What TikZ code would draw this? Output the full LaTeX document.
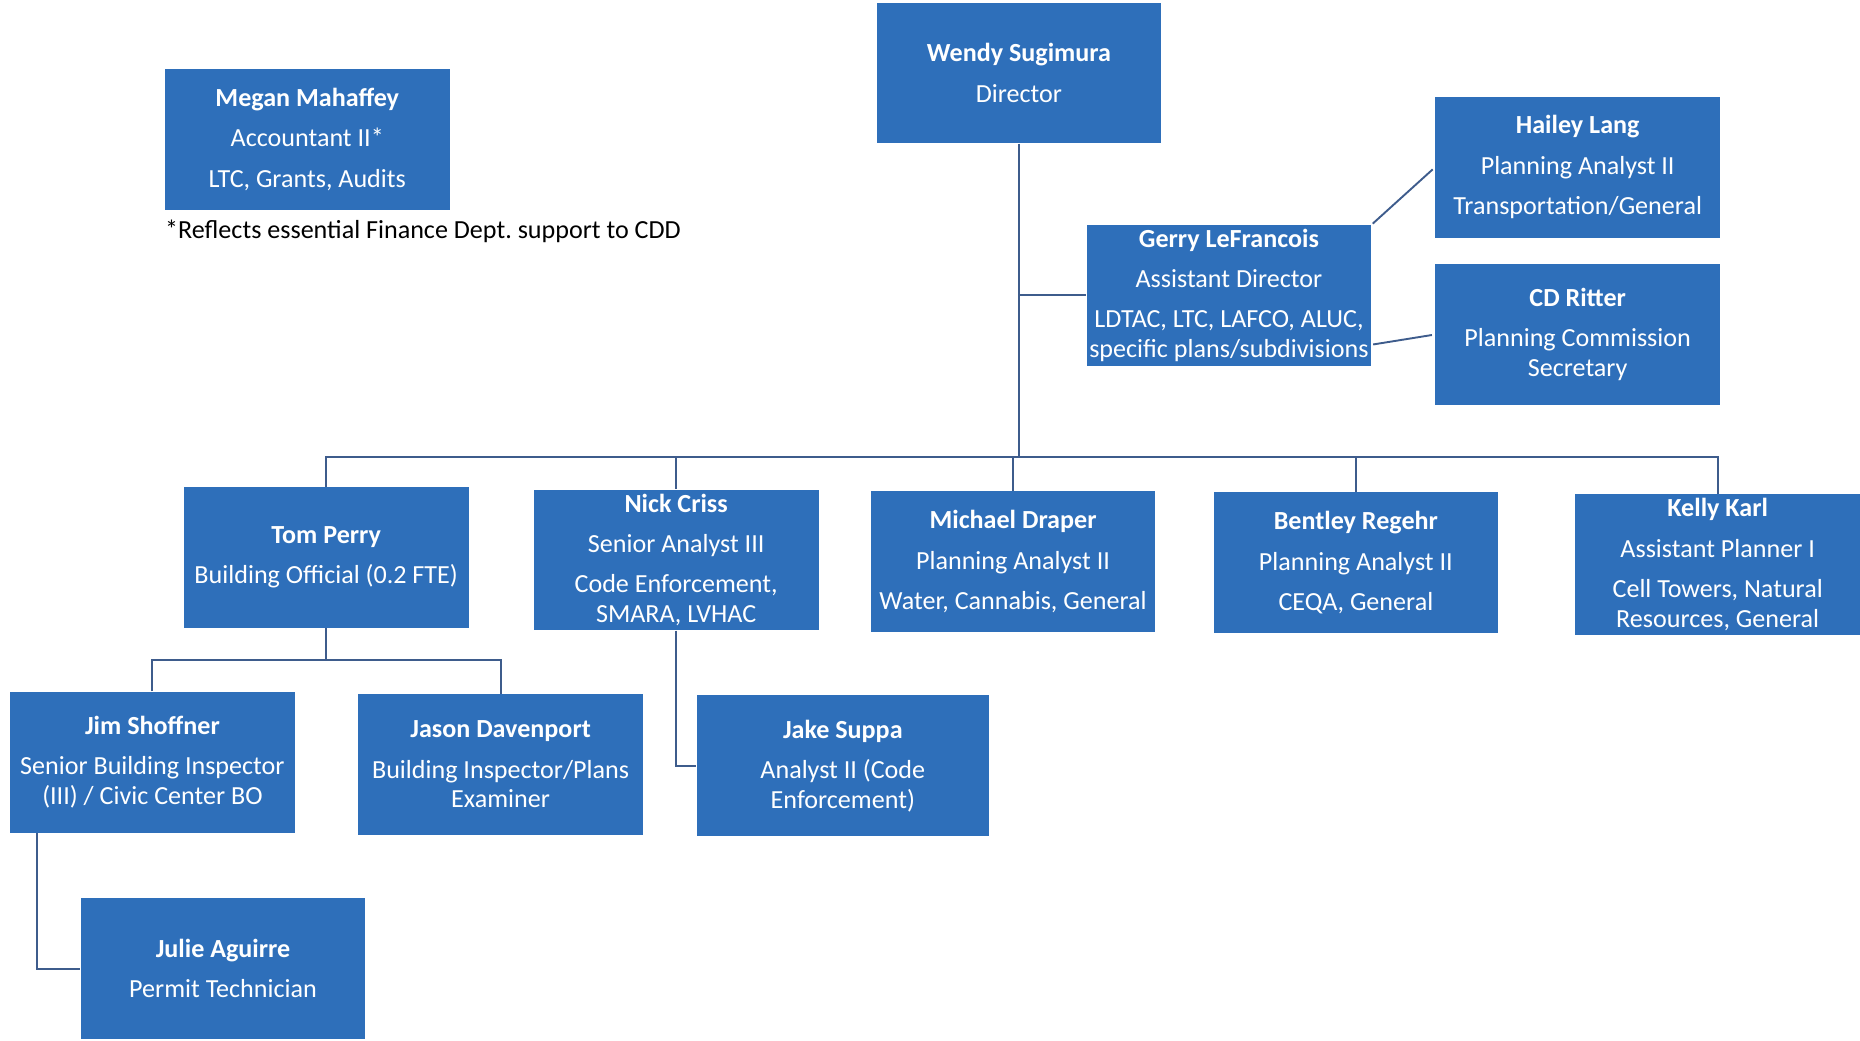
\documentclass[tikz,border=0pt]{standalone}
\usepackage{fontspec}
\setmainfont{Carlito}
\usetikzlibrary{calc}
\frenchspacing
\definecolor{boxblue}{RGB}{46,111,186}
\definecolor{linec}{RGB}{62,92,140}
\tikzset{
  person/.style={fill=boxblue, text=white, align=center, inner sep=0pt,
    minimum width=180pt, minimum height=89pt,
    font=\fontsize{16.5}{18.75}\selectfont},
  conn/.style={draw=linec, line width=1.2pt}
}
\newcommand{\nm}[1]{\textbf{#1}\\[6.75pt]}
\newcommand{\gap}{\\[6.75pt]}
\begin{document}
\begin{tikzpicture}[x=0.75pt,y=-0.75pt]
\useasboundingbox (0,0) rectangle (1568,877);
% boxes (centres in reference px)
\node[person] (wendy) at (859,61.5) {\nm{Wendy Sugimura}Director};
\node[person] (megan) at (259,117.5) {\nm{Megan Mahaffey}Accountant II*\gap LTC, Grants, Audits};
\node[anchor=west, inner sep=0pt, font=\fontsize{16.5}{18.75}\selectfont] (note) at (139,195) {*Reflects essential Finance Dept. support to CDD};
\node[person] (hailey) at (1330,141) {\nm{Hailey Lang}Planning Analyst II\gap Transportation/General};
\node[person] (gerry) at (1036,249) {\nm{Gerry LeFrancois}Assistant Director\gap LDTAC, LTC, LAFCO, ALUC,\\specific plans/subdivisions};
\node[person] (cd) at (1330,282) {\nm{CD Ritter}Planning Commission\\Secretary};
\node[person] (tom) at (275,470) {\nm{Tom Perry}Building Official (0.2 FTE)};
\node[person] (nick) at (570,472) {\nm{Nick Criss}Senior Analyst III\gap Code Enforcement,\\SMARA, LVHAC};
\node[person] (michael) at (854,473.5) {\nm{Michael Draper}Planning Analyst II\gap Water, Cannabis, General};
\node[person] (bentley) at (1143,474.5) {\nm{Bentley Regehr}Planning Analyst II\gap CEQA, General};
\node[person] (kelly) at (1448,476) {\nm{Kelly Karl}Assistant Planner I\gap Cell Towers, Natural\\Resources, General};
\node[person] (jim) at (128.5,642.5) {\nm{Jim Shoffner}Senior Building Inspector\\(III) / Civic Center BO};
\node[person] (jason) at (422,644.5) {\nm{Jason Davenport}Building Inspector/Plans\\Examiner};
\node[person, minimum width=185pt] (jake) at (710.5,645.5) {\nm{Jake Suppa}Analyst II (Code\\Enforcement)};
\node[person] (julie) at (188,816.5) {\nm{Julie Aguirre}Permit Technician};
% connectors
\coordinate (busc) at (wendy.south |- 0,385);
\draw[conn] (wendy.south) -- (busc);
\draw[conn] (wendy.south |- gerry.west) -- (gerry.west);
\draw[conn] (tom.north) |- (busc) -| (kelly.north);
\draw[conn] (nick.north) -- (nick.north |- busc);
\draw[conn] (michael.north) -- (michael.north |- busc);
\draw[conn] (bentley.north) -- (bentley.north |- busc);
\draw[conn, shorten <=1pt, shorten >=2pt] (gerry.north east) -- (hailey.west);
\draw[conn, shorten <=1pt, shorten >=2pt] ($(gerry.south east)+(0,-18)$) -- (cd.west);
\coordinate (tbus) at ($(tom.south)+(0,27)$);
\draw[conn] (tom.south) -- (tbus);
\draw[conn] (jim.north) |- (tbus) -| (jason.north);
\draw[conn] (nick.south) |- (jake.west);
\draw[conn] ($(jim.south west)+(23,0)$) |- (julie.west);
\end{tikzpicture}
\end{document}
